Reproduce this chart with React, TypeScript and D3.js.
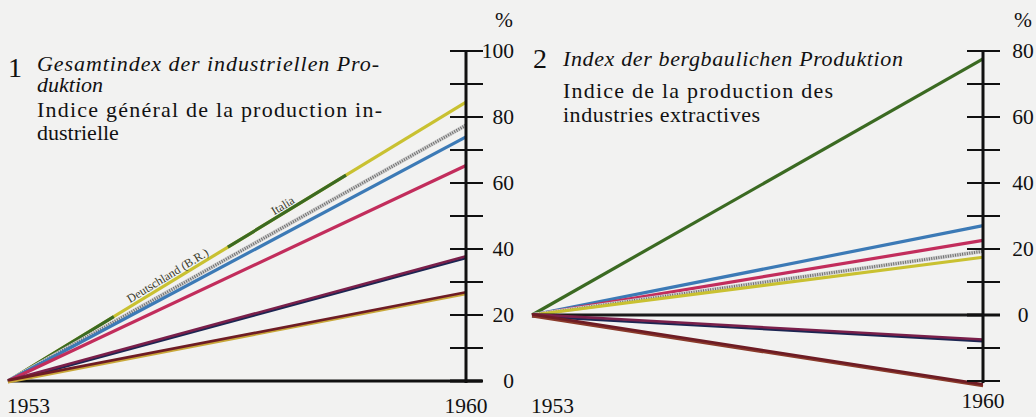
import React, { useLayoutEffect, useRef } from "react";
import * as d3 from "d3";

// ---------- data ----------
const years = [1953, 1960];

// Panel 1: Gesamtindex der industriellen Produktion (change in % vs 1953)
const industrySeries = ["Deutschland (B.R.)", "Italia", "Gemeinschaft", "France", "Nederland", "Belgique", "Luxembourg"];
const industry1960 = [84.5, 84.5, 77.5, 74, 65.3, 37.6, 26.7];

// Panel 2: Index der bergbaulichen Produktion (change in % vs 1953)
const miningSeries = ["Italia", "France", "Nederland", "Gemeinschaft", "Deutschland (B.R.)", "Saar", "Belgique", "Luxembourg"];
const mining1960 = [77.6, 27.1, 22.6, 19.3, 17.5, 0, -7.6, -21.2];

const industryTicks = [0, 10, 20, 30, 40, 50, 60, 70, 80, 90, 100];
const industryLabels = [0, 20, 40, 60, 80, 100];
const miningTicks = [-20, -10, 0, 10, 20, 30, 40, 50, 60, 70, 80];
const miningLabels = [0, 20, 40, 60, 80];

// ---------- styles ----------
const COLORS: Record<string, string[]> = {
  "Deutschland (B.R.)": ["#c9c131"],
  Italia: ["#3b6a22"],
  Gemeinschaft: ["hatch"],
  France: ["#3c7ab6"],
  Nederland: ["#c22d5c"],
  Belgique: ["#7a1f4a", "#1c2552"],
  Luxembourg: ["#6e1c24", "#c9a83a"],
  Saar: ["#1a1a1a"],
};
const MINING_OVERRIDE: Record<string, string[]> = {
  Luxembourg: ["#6e1c24", "#8a3a2a"],
};
const BG = "#f2f2f1";
const FONT = "Liberation Serif";

const W = 1036;
const H = 417;

// Text fitted to a target width by widening letter spacing (wider printed typeface)
function JText(props: { x: number; y: number; width: number; italic?: boolean; size?: number; children: string }) {
  const ref = useRef<SVGTextElement>(null);
  useLayoutEffect(() => {
    const el = ref.current;
    if (!el) return;
    el.style.letterSpacing = "0px";
    const natural = el.getComputedTextLength();
    const n = props.children.length;
    if (n > 1 && natural < props.width) {
      el.style.letterSpacing = `${(props.width - natural) / (n - 1)}px`;
    }
  }, [props.children, props.width]);
  return (
    <text ref={ref} x={props.x} y={props.y} fontFamily={FONT} fontSize={props.size || 22}
      fontStyle={props.italic ? "italic" : "normal"} fill="#111">
      {props.children}
    </text>
  );
}

type PanelProps = {
  series: string[];
  values: number[];
  domain: [number, number];
  ticks: number[];
  labels: number[];
  x0: number;
  x1: number;
  labelX: number;
  labelAnchor: "end" | "middle";
  zeroLine: boolean;
  y1960: number;
  y1960x: number;
  override?: Record<string, string[]>;
};

function Panel(p: PanelProps) {
  const x = d3.scaleLinear().domain(years).range([p.x0, p.x1]);
  const y = d3.scaleLinear().domain(p.domain).range([381, 51]);
  const line = d3.line<[number, number]>().x((d) => x(d[0])).y((d) => y(d[1]));
  const axisX = p.x1;

  const marks: React.ReactNode[] = [];
  p.series.forEach((name, i) => {
    const pts: [number, number][] = [
      [years[0], 0],
      [years[1], p.values[i]],
    ];
    const dPath = line(pts) || "";
    const cols = (p.override && p.override[name]) || COLORS[name];
    if (cols[0] === "hatch") {
      marks.push(
        <g key={name}>
          <path d={dPath} stroke="#d0d0d0" strokeWidth={4} fill="none" />
          <path d={dPath} stroke="#6d6d6d" strokeWidth={3} strokeDasharray="1 1.4" fill="none" />
        </g>
      );
    } else if (cols.length === 2) {
      marks.push(
        <g key={name}>
          <path d={dPath} transform="translate(0,1.2)" stroke={cols[1]} strokeWidth={2.4} fill="none" />
          <path d={dPath} transform="translate(0,-0.6)" stroke={cols[0]} strokeWidth={2.6} fill="none" />
        </g>
      );
    } else if (
      name === "Italia" &&
      p.series.includes("Deutschland (B.R.)") &&
      p.values[p.series.indexOf("Deutschland (B.R.)")] === p.values[i]
    ) {
      // Italia drawn in alternating segments over Deutschland's line
      marks.push(
        <path key={name} d={dPath} pathLength={1} stroke={cols[0]} strokeWidth={3.2}
          strokeDasharray="0.231 0.249 0.258 1" fill="none" />
      );
    } else {
      marks.push(<path key={name} d={dPath} stroke={cols[0]} strokeWidth={3.2} fill="none" />);
    }
  });

  const onLine: React.ReactNode[] = [];
  const di = p.series.indexOf("Deutschland (B.R.)");
  const ii = p.series.indexOf("Italia");
  if (di >= 0 && ii >= 0 && p.values[di] === p.values[ii]) {
    const xa = x(years[0]), ya = y(0), xb = x(years[1]), yb = y(p.values[di]);
    const ang = (Math.atan2(yb - ya, xb - xa) * 180) / Math.PI;
    const at = (t: number): [number, number] => [xa + (xb - xa) * t, ya + (yb - ya) * t];
    const [dxp, dyp] = at(0.27);
    const [ixp, iyp] = at(0.585);
    onLine.push(
      <text key="de" x={dxp} y={dyp} transform={`rotate(${ang},${dxp},${dyp}) translate(0,-3)`}
        fontFamily={FONT} fontSize={12} fill="#3a3a2a">Deutschland (B.R.)</text>,
      <text key="it" x={ixp} y={iyp} transform={`rotate(${ang},${ixp},${iyp}) translate(0,-3)`}
        fontFamily={FONT} fontSize={12} fill="#3a3a2a">Italia</text>
    );
  }

  return (
    <g>
      {p.zeroLine ? (
        <line x1={x(years[0])} x2={axisX + 16} y1={y(0)} y2={y(0)} stroke="#111" strokeWidth={3} />
      ) : null}
      {marks}
      {onLine}
      <line x1={axisX} x2={axisX} y1={y(p.domain[1]) - 1} y2={383} stroke="#111" strokeWidth={3} />
      {p.ticks.map((t) => (
        <line key={t} x1={axisX - 16} x2={axisX + 17} y1={y(t)} y2={y(t)} stroke="#111"
          strokeWidth={t === 0 ? 3 : 2} />
      ))}
      {p.labels.map((t) => (
        <text key={t} x={p.labelX} y={y(t) + 7} textAnchor={p.labelAnchor} fontFamily={FONT} fontSize={21.5} fill="#111">
          {t}
        </text>
      ))}
      <text x={p.labelX + (p.labelAnchor === "end" ? -10 : 0)} y={27} textAnchor="middle" fontFamily={FONT} fontSize={21.5} fill="#111">%</text>
      <text x={x(years[0]) - 1} y={413} fontFamily={FONT} fontSize={21.5} fill="#111">{years[0]}</text>
      <text x={p.y1960x} y={p.y1960} textAnchor="middle" fontFamily={FONT} fontSize={21.5} fill="#111">{years[1]}</text>
    </g>
  );
}

export default function App() {
  return (
    <svg width={W} height={H} style={{ position: "absolute", left: 0, top: 0, display: "block", fontFamily: FONT }}>
      <rect x={0} y={0} width={W} height={H} fill={BG} />

      {/* Titles panel 1 */}
      <text x={8} y={77} fontFamily={FONT} fontSize={28} fill="#111">1</text>
      <JText x={37} y={71} width={342} italic>Gesamtindex der industriellen Pro-</JText>
      <JText x={37} y={92} width={65} italic>duktion</JText>
      <JText x={37} y={117} width={345}>Indice général de la production in-</JText>
      <JText x={37} y={140} width={80}>dustrielle</JText>

      {/* Titles panel 2 */}
      <text x={533} y={68} fontFamily={FONT} fontSize={28} fill="#111">2</text>
      <JText x={563} y={66} width={340} italic>Index der bergbaulichen Produktion</JText>
      <JText x={563} y={98} width={270}>Indice de la production des</JText>
      <JText x={563} y={122} width={197}>industries extractives</JText>

      <Panel
        series={industrySeries}
        values={industry1960}
        domain={[0, 100]}
        ticks={industryTicks}
        labels={industryLabels}
        x0={8}
        x1={466}
        labelX={514}
        labelAnchor="end"
        zeroLine={true}
        y1960={413}
        y1960x={466}
      />
      <Panel
        series={miningSeries}
        values={mining1960}
        domain={[-20, 80]}
        ticks={miningTicks}
        labels={miningLabels}
        x0={532}
        x1={983}
        labelX={1023}
        labelAnchor="middle"
        zeroLine={false}
        y1960={408}
        y1960x={983}
        override={MINING_OVERRIDE}
      />
    </svg>
  );
}
